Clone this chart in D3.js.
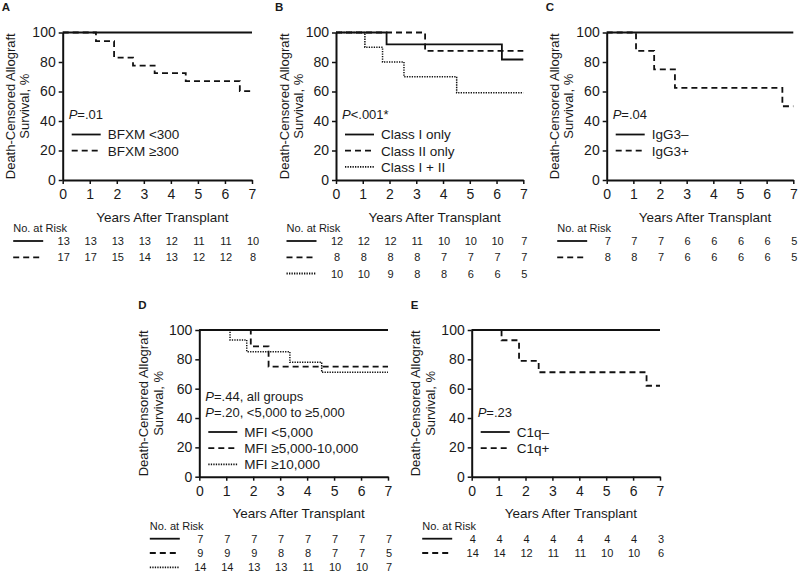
<!DOCTYPE html>
<html><head><meta charset="utf-8">
<script src="https://cdn.jsdelivr.net/npm/d3@7"></script>
<style>
body{margin:0;background:#fff}
svg{display:block}
text{font-family:"Liberation Sans",Arial,Helvetica,sans-serif;fill:#1a1a1a}
</style>
</head><body>
<svg id="chart" width="800" height="575"></svg>
<script>
// ---------- shared ----------
const years = [0,1,2,3,4,5,6,7];
const yTicks = [0,20,40,60,80,100];
const xTitle = "Years After Transplant";
const yTitle = ["Death-Censored Allograft","Survival, %"];
const riskTitle = "No. at Risk";

// ---------- Panel A ----------
const aLabels = ["BFXM <300","BFXM \u2265300"];
const aP = ["=.01"];
const aSolid  = [[0,100],[7,100]];
const aDashed = [[0,100],[1.23,94.1],[1.9,83],[2.6,77.6],[3.4,72.4],[4.55,67],[6.55,60.3],[7,60.3]];
const aRiskSolid  = [13,13,13,13,12,11,11,10];
const aRiskDashed = [17,17,15,14,13,12,12,8];

// ---------- Panel B ----------
const bLabels = ["Class I only","Class II only","Class I + II"];
const bP = ["<.001*"];
const bSolid  = [[0,100],[1.89,92],[6.2,81.7],[7,81.7]];
const bDashed = [[0,100],[3.33,87.5],[7,87.5]];
const bDotted = [[0,100],[1.08,90],[1.74,80],[2.54,70],[4.51,59.1],[7,59.1]];
const bRiskSolid  = [12,12,12,11,10,10,10,7];
const bRiskDashed = [8,8,8,8,7,7,7,7];
const bRiskDotted = [10,10,9,8,8,6,6,5];

// ---------- Panel C ----------
const cLabels = ["IgG3\u2013","IgG3+"];
const cP = ["=.04"];
const cSolid  = [[0,100],[7,100]];
const cDashed = [[0,100],[1.1,87.5],[1.78,75],[2.56,62.5],[6.59,50],[7,50]];
const cRiskSolid  = [7,7,7,6,6,6,6,5];
const cRiskDashed = [8,8,7,6,6,6,6,5];

// ---------- Panel D ----------
const dLabels = ["MFI <5,000","MFI \u22655,000-10,000","MFI \u226510,000"];
const dP = ["=.44, all groups","=.20, <5,000 to \u22655,000"];
const dSolid  = [[0,100],[7,100]];
const dDashed = [[0,100],[1.91,88.9],[2.57,75],[7,75]];
const dDotted = [[0,100],[1.14,93.2],[1.76,85.2],[3.36,78],[4.54,71.2],[7,71.2]];
const dRiskSolid  = [7,7,7,7,7,7,7,7];
const dRiskDashed = [9,9,9,8,8,7,7,5];
const dRiskDotted = [14,14,13,13,11,10,10,7];

// ---------- Panel E ----------
const eLabels = ["C1q\u2013","C1q+"];
const eP = ["=.23"];
const eSolid  = [[0,100],[7,100]];
const eDashed = [[0,100],[1.11,93],[1.76,78.9],[2.49,71.2],[6.5,62],[7,62]];
const eRiskSolid  = [4,4,4,4,4,4,4,3];
const eRiskDashed = [14,14,12,11,11,10,10,6];

// ---------- layout ----------
const TOP = {y100:32.5, y0:180, xt:36.7, nr:48.3, rows:[61,77.3,93.5], ytl:[-52,-38]};
const BOT = {y100:330, y0:476.7, xt:36, nr:49, rows:[62,76.3,90.6], ytl:[-56,-41]};

const panels = [
  {letter:"A", x0:62.7, x1:252, L:TOP, p:aP, labels:aLabels,
   series:[{v:aSolid,s:"solid"},{v:aDashed,s:"dashed"}], risk:[aRiskSolid,aRiskDashed]},
  {letter:"B", x0:336, x1:523.3, L:TOP, p:bP, labels:bLabels,
   series:[{v:bSolid,s:"solid"},{v:bDashed,s:"dashed"},{v:bDotted,s:"dotted"}], risk:[bRiskSolid,bRiskDashed,bRiskDotted]},
  {letter:"C", x0:606.7, x1:793.3, L:TOP, p:cP, labels:cLabels,
   series:[{v:cSolid,s:"solid"},{v:cDashed,s:"dashed"}], risk:[cRiskSolid,cRiskDashed]},
  {letter:"D", x0:199.3, x1:388, L:BOT, p:dP, labels:dLabels,
   series:[{v:dSolid,s:"solid"},{v:dDashed,s:"dashed"},{v:dDotted,s:"dotted"}], risk:[dRiskSolid,dRiskDashed,dRiskDotted]},
  {letter:"E", x0:471.7, x1:660, L:BOT, p:eP, labels:eLabels,
   series:[{v:eSolid,s:"solid"},{v:eDashed,s:"dashed"}], risk:[eRiskSolid,eRiskDashed]}
];

const styleOrder = ["solid","dashed","dotted"];
const dashes = {solid:null, dashed:"6,4", dotted:"1.3,1.2"};
const svg = d3.select("#chart");

function legendLine(g, x1, x2, y, style, w){
  g.append("line").attr("x1",x1).attr("x2",x2).attr("y1",y).attr("y2",y)
   .attr("stroke","#111").attr("stroke-width",w)
   .attr("stroke-dasharray",dashes[style]);
}

panels.forEach(p => {
  const L = p.L;
  const g = svg.append("g");
  const x = d3.scaleLinear().domain([0,7]).range([p.x0,p.x1]);
  const y = d3.scaleLinear().domain([0,100]).range([L.y0,L.y100]);
  const line = d3.line().x(d=>x(d[0])).y(d=>y(d[1])).curve(d3.curveStepAfter);

  // curves (non-solid first, solid on top)
  p.series.slice().reverse().forEach(s => {
    g.append("path").attr("d",line(s.v)).attr("fill","none")
     .attr("stroke","#111").attr("stroke-width",s.s==="dotted"?1.5:1.8)
     .attr("stroke-dasharray",dashes[s.s]);
  });

  // axes
  const ya = g.append("g").attr("transform",`translate(${p.x0},0)`)
    .call(d3.axisLeft(y).tickValues(yTicks).tickFormat(d3.format("d"))
      .tickSize(4).tickSizeOuter(0).tickPadding(3));
  const xa = g.append("g").attr("transform",`translate(0,${L.y0})`)
    .call(d3.axisBottom(x).tickValues(years).tickFormat(d3.format("d"))
      .tickSize(4).tickSizeOuter(0).tickPadding(5.5));
  [ya,xa].forEach(a=>{
    a.select(".domain").attr("stroke","#111").attr("stroke-width",2);
    a.selectAll(".tick line").attr("stroke","#111").attr("stroke-width",1.5);
    a.selectAll(".tick text").style("font-size","14px").attr("fill","#1a1a1a")
      .style("font-family",'"Liberation Sans",Arial,sans-serif');
  });

  // panel letter
  g.append("text").attr("x",p.x0-61).attr("y",L.y100-21.5)
   .style("font-size","11.5px").style("font-weight","bold").text(p.letter);

  // y title
  const cy = (L.y0+L.y100)/2;
  yTitle.forEach((t,i)=>{
    g.append("text").attr("transform",`translate(${p.x0+L.ytl[i]},${cy}) rotate(-90)`)
     .attr("text-anchor","middle").attr("dominant-baseline","central")
     .style("font-size","13px").text(t);
  });

  // x title
  g.append("text").attr("x",(p.x0+p.x1)/2+5).attr("y",L.y0+L.xt+4.8)
   .attr("text-anchor","middle").style("font-size","13.5px").text(xTitle);

  // in-plot legend
  const pLines = p.p.length;
  p.p.forEach((t,i)=>{
    const ty = L.y100 + 82 - (pLines-1-i)*15.7 + 4.7;
    const tx = g.append("text").attr("x",p.x0+6).attr("y",ty).style("font-size","13px");
    tx.append("tspan").style("font-style","italic").text("P");
    tx.append("tspan").text(t);
  });
  p.labels.forEach((lab,i)=>{
    const ly = L.y100 + 102 + i*16.2;
    legendLine(g, p.x0+9, p.x0+38, ly, styleOrder[i], 1.8);
    g.append("text").attr("x",p.x0+45).attr("y",ly+4.8).style("font-size","13.5px").text(lab);
  });

  // number at risk
  g.append("text").attr("x",p.x0-49.5).attr("y",L.y0+L.nr+4)
   .style("font-size","11px").text(riskTitle);
  p.risk.forEach((row,i)=>{
    const ry = L.y0 + L.rows[i];
    legendLine(g, p.x0-49.5, p.x0-19.5, ry, styleOrder[i], 1.8);
    g.selectAll(null).data(row).enter().append("text")
     .attr("x",(d,j)=>x(years[j])+1).attr("y",ry+4)
     .attr("text-anchor","middle").style("font-size","11px").text(d=>d);
  });
});
</script>
</body></html>
